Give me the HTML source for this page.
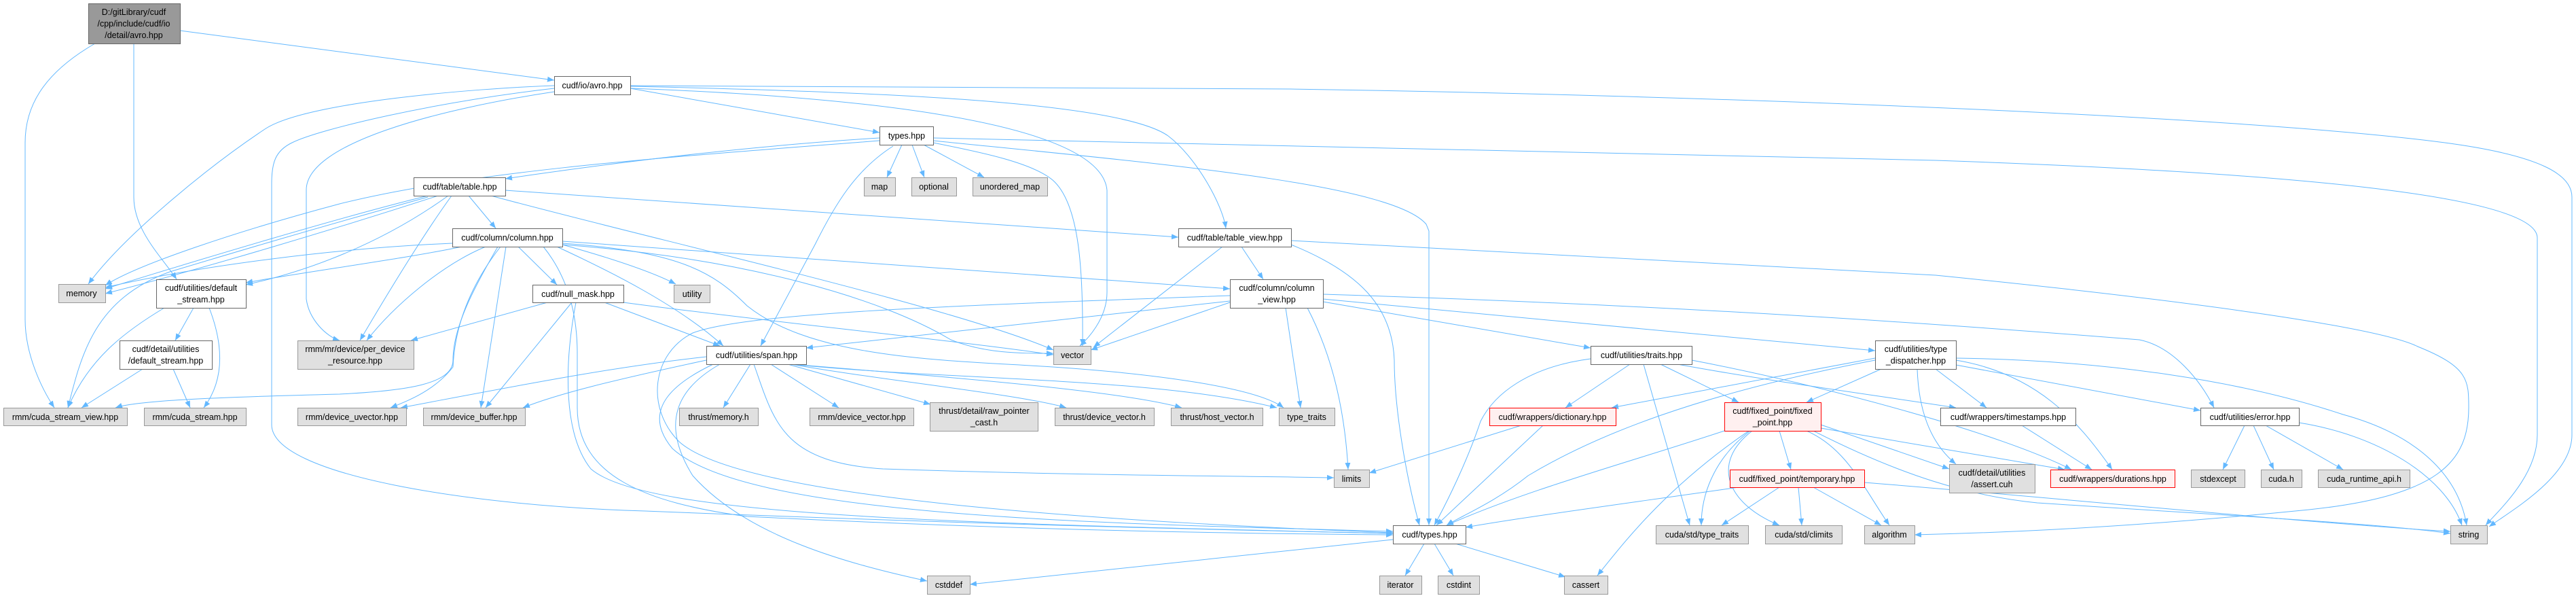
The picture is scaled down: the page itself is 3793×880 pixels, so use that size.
<!DOCTYPE html>
<html><head><meta charset="utf-8"><style>
html,body{margin:0;padding:0;background:#fff;}
svg{display:block;}
text{font-family:"Liberation Sans",Arial,sans-serif;font-size:12.5px;fill:#000;}
.e{fill:none;stroke:#63b8ff;stroke-width:1;}
.w{fill:#fff;stroke:#666;stroke-width:1;}
.g{fill:#e0e0e0;stroke:#999;stroke-width:1;}
.r{fill:#fff0f0;stroke:#f00;stroke-width:1;}
.k{fill:#999;stroke:#666;stroke-width:1;}
</style></head><body>
<svg width="3793" height="880" viewBox="0 0 3793 880" xmlns="http://www.w3.org/2000/svg">
<defs><marker id="a" markerWidth="10" markerHeight="8" refX="10" refY="4" orient="auto" markerUnits="userSpaceOnUse"><path d="M0,0 L10,4 L0,8 z" fill="#63b8ff"/></marker></defs>
<g class="e" marker-end="url(#a)">
<path d="M140 64 C60 110 37 160 37 210 L37 470 C37 520 60 570 80 600"/>
<path d="M197 64 L197 290 C197 340 240 380 260 411"/>
<path d="M265 45 L816 118"/>
<path d="M816 126 C700 130 450 150 390 190 C300 250 180 350 130 418"/>
<path d="M816 130 C640 150 470 190 430 210 C405 222 400 240 400 270 L400 625 C400 700 700 745 950 752 C1400 770 1800 780 2051 785"/>
<path d="M816 135 C650 160 450 210 451 280 L451 440 C455 470 480 495 500 501"/>
<path d="M928 130 L1295 195"/>
<path d="M928 130 C1200 140 1620 170 1630 280 L1630 430 C1630 470 1600 500 1590 509"/>
<path d="M928 127 C1300 135 1650 150 1720 200 C1760 230 1800 300 1805 336"/>
<path d="M928 126 L1900 131 C2500 140 3300 170 3600 210 C3750 230 3787 260 3787 290 L3787 640 C3787 700 3700 750 3665 775"/>
<path d="M1374 203 L2850 236 C3400 255 3736 290 3736 350 L3736 640 C3736 700 3680 750 3660 773"/>
<path d="M1374 207 C1700 240 2050 270 2100 330 L2104 340 L2104 773"/>
<path d="M1295 203 C1100 215 900 240 744 263"/>
<path d="M1295 207 C1000 230 700 250 500 300 C350 340 200 390 155 420"/>
<path d="M1328 213 L1306 261"/><path d="M1343 213 L1361 261"/><path d="M1360 213 L1449 261"/>
<path d="M1374 210 C1450 225 1520 240 1550 265 C1590 300 1595 400 1594 509"/>
<path d="M1315 215 C1260 250 1230 300 1200 360 L1120 509"/>
<path d="M630 288 C500 320 300 380 155 425"/>
<path d="M645 288 C500 335 300 395 155 432"/>
<path d="M660 288 C560 360 450 400 362 419"/>
<path d="M665 288 C620 350 560 450 530 501"/>
<path d="M690 288 L730 336"/>
<path d="M744 280 L1735 349"/>
<path d="M723 288 C950 350 1400 450 1551 515"/>
<path d="M630 290 C450 340 350 370 250 400 C140 440 120 520 100 600"/>
<path d="M666 358 C500 365 300 390 155 423"/>
<path d="M680 363 C600 380 450 400 362 416"/>
<path d="M715 363 C650 390 580 450 540 501"/>
<path d="M737 363 C700 410 670 470 667 540 C640 575 600 590 575 600"/>
<path d="M733 363 C700 420 667 480 667 530 C667 565 600 575 500 580 C300 585 200 590 170 600"/>
<path d="M745 363 L708 600"/>
<path d="M763 363 L820 419"/>
<path d="M828 360 C900 380 960 400 995 418"/>
<path d="M828 355 L1811 425"/>
<path d="M828 360 C1100 380 1300 440 1400 500 C1450 520 1500 520 1551 520"/>
<path d="M820 363 C900 400 1000 450 1065 509"/>
<path d="M828 358 C1000 370 1050 400 1100 450 C1200 530 1400 530 1550 540 C1700 550 1850 570 1890 600"/>
<path d="M800 363 C830 400 850 450 850 520 L850 600 C850 700 950 740 1100 760 C1500 780 1800 785 2051 787"/>
<path d="M806 445 L605 501"/>
<path d="M842 445 L715 600"/>
<path d="M848 445 C830 540 830 640 870 690 C950 760 1400 770 2051 785"/>
<path d="M890 445 L1060 509"/>
<path d="M918 445 C1100 470 1400 500 1551 522"/>
<path d="M242 453 C180 490 130 530 100 600"/>
<path d="M308 453 C330 510 330 560 300 600"/>
<path d="M285 453 L258 501"/>
<path d="M210 543 L120 600"/><path d="M255 543 L280 600"/>
<path d="M1828 363 L1860 411"/>
<path d="M1800 363 L1610 511"/>
<path d="M1901 360 C2000 400 2050 450 2053 530 C2053 600 2070 700 2090 773"/>
<path d="M1901 354 L2850 405 C3200 440 3500 480 3560 510 C3635 540 3635 560 3635 600 C3635 680 3590 730 3400 750 C3100 780 2900 785 2819 787"/>
<path d="M1811 443 L1187 512"/>
<path d="M1811 445 L1606 515"/>
<path d="M1925 453 C1960 520 1980 600 1985 691"/>
<path d="M1893 453 L1915 600"/>
<path d="M1811 435 C1400 450 1100 460 1020 490 C960 520 950 600 1000 650 C1100 740 1700 770 2051 784"/>
<path d="M1948 444 L2342 512"/>
<path d="M1948 440 L2761 516"/>
<path d="M1948 433 C2500 450 2900 480 3150 500 C3200 510 3240 560 3260 600"/>
<path d="M1105 536 L1065 600"/>
<path d="M1135 536 L1235 600"/>
<path d="M1160 536 L1370 595"/>
<path d="M1165 536 C1300 560 1500 580 1570 600"/>
<path d="M1165 536 C1400 555 1650 575 1740 600"/>
<path d="M1165 536 C1400 560 1700 555 1880 600"/>
<path d="M1060 536 C1000 570 970 620 1020 700 C1100 790 1250 830 1365 855"/>
<path d="M1110 536 C1140 620 1150 680 1300 690 C1600 700 1800 700 1964 703"/>
<path d="M1050 536 C1000 560 940 600 990 660 C1100 760 1600 770 2051 782"/>
<path d="M1040 525 C900 540 750 570 590 600"/>
<path d="M1040 530 C900 560 820 580 770 600"/>
<path d="M2342 528 C2250 540 2200 580 2180 620 C2160 680 2130 740 2112 773"/>
<path d="M2400 536 L2305 600"/>
<path d="M2445 536 L2560 592"/>
<path d="M2420 536 L2488 773"/>
<path d="M2470 536 C2600 560 2750 580 2880 600"/>
<path d="M2491 530 C2700 570 2950 640 3050 691"/>
<path d="M2761 527 L2373 600"/>
<path d="M2761 530 C2500 580 2350 640 2250 700 C2200 740 2150 760 2130 773"/>
<path d="M2770 543 L2660 592"/>
<path d="M2850 543 L2925 600"/>
<path d="M2880 537 L3240 604"/>
<path d="M2880 530 C3000 550 3060 620 3110 691"/>
<path d="M2823 543 C2825 600 2840 650 2880 683"/>
<path d="M2880 527 C3100 530 3300 560 3450 610 C3560 640 3620 700 3632 773"/>
<path d="M2240 626 L2016 696"/>
<path d="M2272 626 L2115 773"/>
<path d="M2539 634 C2400 680 2250 720 2130 773"/>
<path d="M2620 634 L2637 691"/>
<path d="M2577 634 C2530 670 2505 720 2505 773"/>
<path d="M2580 634 C2520 680 2540 740 2620 773"/>
<path d="M2660 634 C2720 660 2745 720 2782 773"/>
<path d="M2575 634 C2450 720 2390 800 2352 847"/>
<path d="M2681 625 L2870 690"/>
<path d="M2670 634 C2800 700 2900 730 3000 740 C3300 760 3500 770 3608 785"/>
<path d="M2681 630 L3040 691"/>
<path d="M2560 717 C2400 740 2250 760 2158 776"/>
<path d="M2620 717 L2535 773"/>
<path d="M2648 717 L2653 773"/>
<path d="M2670 717 L2770 773"/>
<path d="M2745 710 C3000 730 3400 770 3608 782"/>
<path d="M2977 626 L3080 691"/>
<path d="M3305 626 L3273 691"/><path d="M3318 626 L3348 691"/><path d="M3336 626 L3450 691"/>
<path d="M3385 622 C3500 640 3600 700 3625 773"/>
<path d="M2097 800 L2069 847"/><path d="M2112 800 L2140 847"/><path d="M2143 800 L2305 849"/>
<path d="M2051 794 L1428 860"/>
</g>
<g>
<rect class="k" x="130.5" y="5.5" width="135" height="59"/>
<text x="197" y="22" text-anchor="middle">D:/gitLibrary/cudf</text>
<text x="197" y="39" text-anchor="middle">/cpp/include/cudf/io</text>
<text x="197" y="56" text-anchor="middle">/detail/avro.hpp</text>
</g>
<g text-anchor="middle">
<rect class="w" x="816.5" y="112.5" width="112" height="27"/><text x="872" y="130">cudf/io/avro.hpp</text>
<rect class="w" x="609.5" y="261.5" width="135" height="27"/><text x="677" y="279">cudf/table/table.hpp</text>
<rect class="w" x="666.5" y="336.5" width="162" height="27"/><text x="747" y="354">cudf/column/column.hpp</text>
<rect class="g" x="86.5" y="418.5" width="69" height="27"/><text x="120" y="436">memory</text>
<rect class="w" x="230.5" y="411.5" width="132" height="42"/><text x="296" y="428">cudf/utilities/default</text><text x="296" y="445">_stream.hpp</text>
<rect class="w" x="784.5" y="419.5" width="134" height="26"/><text x="851" y="437">cudf/null_mask.hpp</text>
<rect class="w" x="176.5" y="501.5" width="136" height="42"/><text x="244" y="518">cudf/detail/utilities</text><text x="244" y="535">/default_stream.hpp</text>
<rect class="g" x="438.5" y="501.5" width="171" height="42"/><text x="523" y="518">rmm/mr/device/per_device</text><text x="523" y="535">_resource.hpp</text>
<rect class="g" x="5.5" y="600.5" width="182" height="26"/><text x="96" y="618">rmm/cuda_stream_view.hpp</text>
<rect class="g" x="212.5" y="600.5" width="150" height="26"/><text x="287" y="618">rmm/cuda_stream.hpp</text>
<rect class="g" x="438.5" y="600.5" width="160" height="26"/><text x="518" y="618">rmm/device_uvector.hpp</text>
<rect class="g" x="623.5" y="600.5" width="150" height="26"/><text x="698" y="618">rmm/device_buffer.hpp</text>
<rect class="w" x="1295.5" y="186.5" width="79" height="27"/><text x="1335" y="204">types.hpp</text>
<rect class="g" x="1272.5" y="261.5" width="46" height="27"/><text x="1295" y="279">map</text>
<rect class="g" x="1342.5" y="261.5" width="66" height="27"/><text x="1375" y="279">optional</text>
<rect class="g" x="1432.5" y="261.5" width="110" height="27"/><text x="1487" y="279">unordered_map</text>
<rect class="w" x="1735.5" y="336.5" width="166" height="27"/><text x="1818" y="354">cudf/table/table_view.hpp</text>
<rect class="g" x="992.5" y="419.5" width="53" height="26"/><text x="1019" y="437">utility</text>
<rect class="w" x="1811.5" y="411.5" width="137" height="42"/><text x="1880" y="428">cudf/column/column</text><text x="1880" y="445">_view.hpp</text>
<rect class="g" x="1551.5" y="509.5" width="55" height="27"/><text x="1579" y="527">vector</text>
<rect class="w" x="1040.5" y="509.5" width="147" height="27"/><text x="1114" y="527">cudf/utilities/span.hpp</text>
<rect class="g" x="1000.5" y="600.5" width="116" height="26"/><text x="1058" y="618">thrust/memory.h</text>
<rect class="g" x="1192.5" y="600.5" width="153" height="26"/><text x="1269" y="618">rmm/device_vector.hpp</text>
<rect class="g" x="1369.5" y="592.5" width="159" height="42"/><text x="1449" y="609">thrust/detail/raw_pointer</text><text x="1449" y="626">_cast.h</text>
<rect class="g" x="1553.5" y="600.5" width="146" height="26"/><text x="1626" y="618">thrust/device_vector.h</text>
<rect class="g" x="1724.5" y="600.5" width="135" height="26"/><text x="1792" y="618">thrust/host_vector.h</text>
<rect class="g" x="1883.5" y="600.5" width="82" height="26"/><text x="1924" y="618">type_traits</text>
<rect class="g" x="1365.5" y="847.5" width="63" height="27"/><text x="1397" y="865">cstddef</text>
<rect class="w" x="2342.5" y="509.5" width="149" height="27"/><text x="2417" y="527">cudf/utilities/traits.hpp</text>
<rect class="w" x="2761.5" y="501.5" width="119" height="42"/><text x="2821" y="518">cudf/utilities/type</text><text x="2821" y="535">_dispatcher.hpp</text>
<rect class="r" x="2193.5" y="600.5" width="186" height="26"/><text x="2286" y="618">cudf/wrappers/dictionary.hpp</text>
<rect class="r" x="2539.5" y="592.5" width="142" height="42"/><text x="2610" y="609">cudf/fixed_point/fixed</text><text x="2610" y="626">_point.hpp</text>
<rect class="g" x="1964.5" y="691.5" width="52" height="26"/><text x="1990" y="709">limits</text>
<rect class="r" x="2547.5" y="691.5" width="198" height="26"/><text x="2646" y="709">cudf/fixed_point/temporary.hpp</text>
<rect class="w" x="2051.5" y="773.5" width="107" height="27"/><text x="2105" y="791">cudf/types.hpp</text>
<rect class="g" x="2438.5" y="773.5" width="136" height="27"/><text x="2506" y="791">cuda/std/type_traits</text>
<rect class="g" x="2599.5" y="773.5" width="113" height="27"/><text x="2656" y="791">cuda/std/climits</text>
<rect class="g" x="2745.5" y="773.5" width="74" height="27"/><text x="2782" y="791">algorithm</text>
<rect class="g" x="2031.5" y="847.5" width="62" height="27"/><text x="2062" y="865">iterator</text>
<rect class="g" x="2117.5" y="847.5" width="61" height="27"/><text x="2148" y="865">cstdint</text>
<rect class="g" x="2303.5" y="847.5" width="64" height="27"/><text x="2335" y="865">cassert</text>
<rect class="w" x="2857.5" y="600.5" width="199" height="26"/><text x="2957" y="618">cudf/wrappers/timestamps.hpp</text>
<rect class="w" x="3240.5" y="600.5" width="145" height="26"/><text x="3313" y="618">cudf/utilities/error.hpp</text>
<rect class="g" x="2870.5" y="683.5" width="126" height="42"/><text x="2933" y="700">cudf/detail/utilities</text><text x="2933" y="717">/assert.cuh</text>
<rect class="r" x="3019.5" y="691.5" width="183" height="26"/><text x="3111" y="709">cudf/wrappers/durations.hpp</text>
<rect class="g" x="3226.5" y="691.5" width="79" height="26"/><text x="3266" y="709">stdexcept</text>
<rect class="g" x="3329.5" y="691.5" width="60" height="26"/><text x="3359" y="709">cuda.h</text>
<rect class="g" x="3413.5" y="691.5" width="135" height="26"/><text x="3481" y="709">cuda_runtime_api.h</text>
<rect class="g" x="3608.5" y="773.5" width="54" height="27"/><text x="3635" y="791">string</text>
</g>
</svg>
</body></html>
